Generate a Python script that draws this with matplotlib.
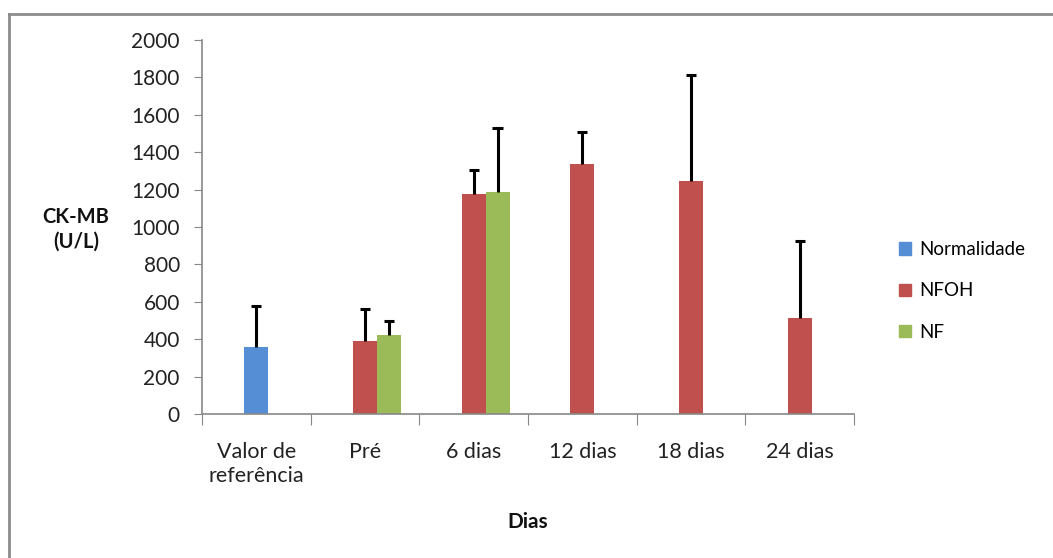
import numpy as np
import matplotlib
matplotlib.use("Agg")
import matplotlib.pyplot as plt
from matplotlib.lines import Line2D

plt.rcParams['font.family'] = ['Lato', 'DejaVu Sans']

categories = ["Valor de\nreferência", "Pré", "6 dias", "12 dias", "18 dias", "24 dias"]
series = ["Normalidade", "NFOH", "NF"]
normalidade = [360, None, None, None, None, None]
normalidade_sd = [218, None, None, None, None, None]
nfoh = [None, 389, 1178, 1337, 1248, 512]
nfoh_sd = [None, 174, 125, 173, 563, 415]
nf = [None, 421, 1189, None, None, None]
nf_sd = [None, 75, 339, None, None, None]

colors = ["#558ED5", "#C0504D", "#9BBB59"]

fig = plt.figure(figsize=(10.53, 5.58), dpi=100)
ax = fig.add_axes([202 / 1053, 1 - 414 / 558, (854 - 202) / 1053, (414 - 40) / 558])

x = np.arange(len(categories))
w = 0.22
cap = 0.095
offsets = [0, 0, w]
data = [(normalidade, normalidade_sd), (nfoh, nfoh_sd), (nf, nf_sd)]
for (vals, sds), off, col, name in zip(data, offsets, colors, series):
    idx = [i for i, v in enumerate(vals) if v is not None]
    xs = x[idx] + off
    ys = np.array([vals[i] for i in idx])
    es = np.array([sds[i] for i in idx])
    ax.bar(xs, ys, width=w, color=col, label=name, zorder=2)
    # only the upper half of the error bar, as in the original
    ax.vlines(xs, ys, ys + es, color="black", lw=2.2, zorder=3)
    ax.hlines(ys + es, xs - cap / 2, xs + cap / 2, color="black", lw=2.2, zorder=3)

ax.set_xlim(-0.5, len(categories) - 0.5)
ax.set_ylim(0, 2000)
ax.set_yticks(range(0, 2001, 200))
ax.set_xticks(np.arange(-0.5, len(categories), 1.0), minor=False)
ax.set_xticklabels([])
ax.set_xticks(x, minor=True)
ax.set_xticklabels(categories, minor=True, fontsize=15.5, color="#222222", linespacing=1.25)
ax.tick_params(axis="x", which="minor", length=0, pad=20)
ax.tick_params(axis="x", which="major", length=8, color="#888888", direction="out")
ax.tick_params(axis="y", length=6, color="#888888", labelsize=15, labelcolor="#222222", pad=10)
for s in ["top", "right"]:
    ax.spines[s].set_visible(False)
for s in ["left", "bottom"]:
    ax.spines[s].set_color("#888888")
    ax.spines[s].set_linewidth(1.2)

fig.text(76 / 1053, 1 - 229 / 558, "CK-MB\n(U/L)", ha="center", va="center",
         fontsize=14.5, fontweight="bold", linespacing=1.3, color="#111111")
fig.text(528 / 1053, 1 - 522 / 558, "Dias", ha="center", va="center",
         fontsize=15, fontweight="bold", color="#111111")

handles = [plt.Rectangle((0, 0), 1, 1, color=c) for c in colors]
fig.legend(handles, series, loc="upper left", bbox_to_anchor=(884 / 1053, 1 - 226 / 558),
           frameon=False, fontsize=13.5, handlelength=0.65, handleheight=0.65,
           handletextpad=0.45, labelspacing=1.3, borderpad=0.3)

fig.add_artist(Line2D([9 / 1053, 9 / 1053], [0, 1 - 14 / 558], color="#8c8c8c", lw=2,
                      transform=fig.transFigure))
fig.add_artist(Line2D([9 / 1053, 1], [1 - 14 / 558, 1 - 14 / 558], color="#8c8c8c", lw=2,
                      transform=fig.transFigure))

fig.savefig("out.png", dpi=100)
